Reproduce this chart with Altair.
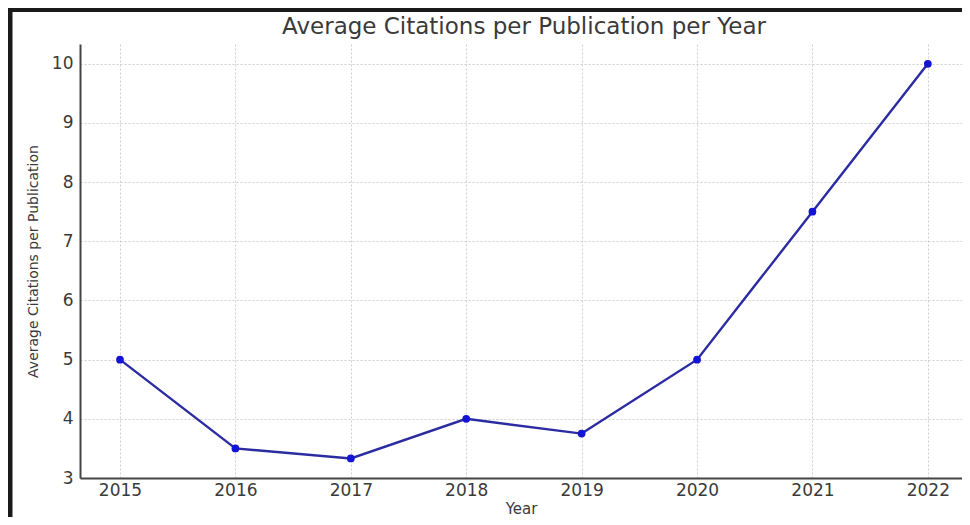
import altair as alt
import pandas as pd

years = [2015, 2016, 2017, 2018, 2019, 2020, 2021, 2022]
avg_citations = [5.0, 3.5, 3.33, 4.0, 3.75, 5.0, 7.5, 10.0]
y_ticks = [3, 4, 5, 6, 7, 8, 9, 10]

df = pd.DataFrame({"Year": years, "Avg": avg_citations})

W, H = 882, 434
FONT = "DejaVu Sans"
TXT = "#3a3a3a"

x_enc = alt.X(
    "Year:Q",
    scale=alt.Scale(domain=[2014.6534, 2022.296], nice=False, zero=False),
    axis=alt.Axis(
        values=years, format="d", title="Year",
        labelFontSize=17, labelColor=TXT, labelFont=FONT, labelPadding=4,
        titleFontSize=15, titleColor=TXT, titleFont=FONT, titleFontWeight="normal", titlePadding=3,
        ticks=False, domainColor="#444", domainWidth=2,
        grid=True, gridColor="#cfcfcf", gridDash=[2, 2], gridWidth=1,
    ),
)
y_enc = alt.Y(
    "Avg:Q",
    scale=alt.Scale(domain=[3, 10.335], nice=False, zero=False),
    axis=alt.Axis(
        values=y_ticks, format="d", title="Average Citations per Publication",
        labelFontSize=17, labelColor=TXT, labelFont=FONT, labelPadding=7,
        titleFontSize=14, titleColor=TXT, titleFont=FONT, titleFontWeight="normal", titlePadding=11,
        ticks=False, domainColor="#444", domainWidth=2,
        grid=True, gridColor="#cfcfcf", gridDash=[2, 2], gridWidth=1,
    ),
)

line = alt.Chart(df).mark_line(color="#2c2ca2", strokeWidth=2.4).encode(x=x_enc, y=y_enc)
pts = alt.Chart(df).mark_point(filled=True, color="#1414d6", size=60, opacity=1).encode(x="Year:Q", y="Avg:Q")

frame_df = pd.DataFrame({"k": [0]})
left_band = alt.Chart(frame_df).mark_rule(color="#1a1a1a", strokeWidth=5).encode(
    x=alt.value(-70), y=alt.value(-36), y2=alt.value(H + 45)
)
top_band = alt.Chart(frame_df).mark_rule(color="#1a1a1a", strokeWidth=4).encode(
    x=alt.value(-72), x2=alt.value(W + 10), y=alt.value(-34)
)

chart = alt.layer(line, pts, left_band, top_band).properties(
    width=W, height=H,
    padding={"left": 72, "top": 36, "right": 0, "bottom": 39},
    autosize=alt.AutoSizeParams(type="none"),
    title=alt.TitleParams(
        "Average Citations per Publication per Year",
        font=FONT, fontSize=23, fontWeight="normal", color=TXT,
        anchor="middle", frame="group", dx=3, offset=6, dy=39,
    ),
).configure_view(stroke=None)

chart.save("out.html", embed_options={"renderer": "svg", "actions": False})
